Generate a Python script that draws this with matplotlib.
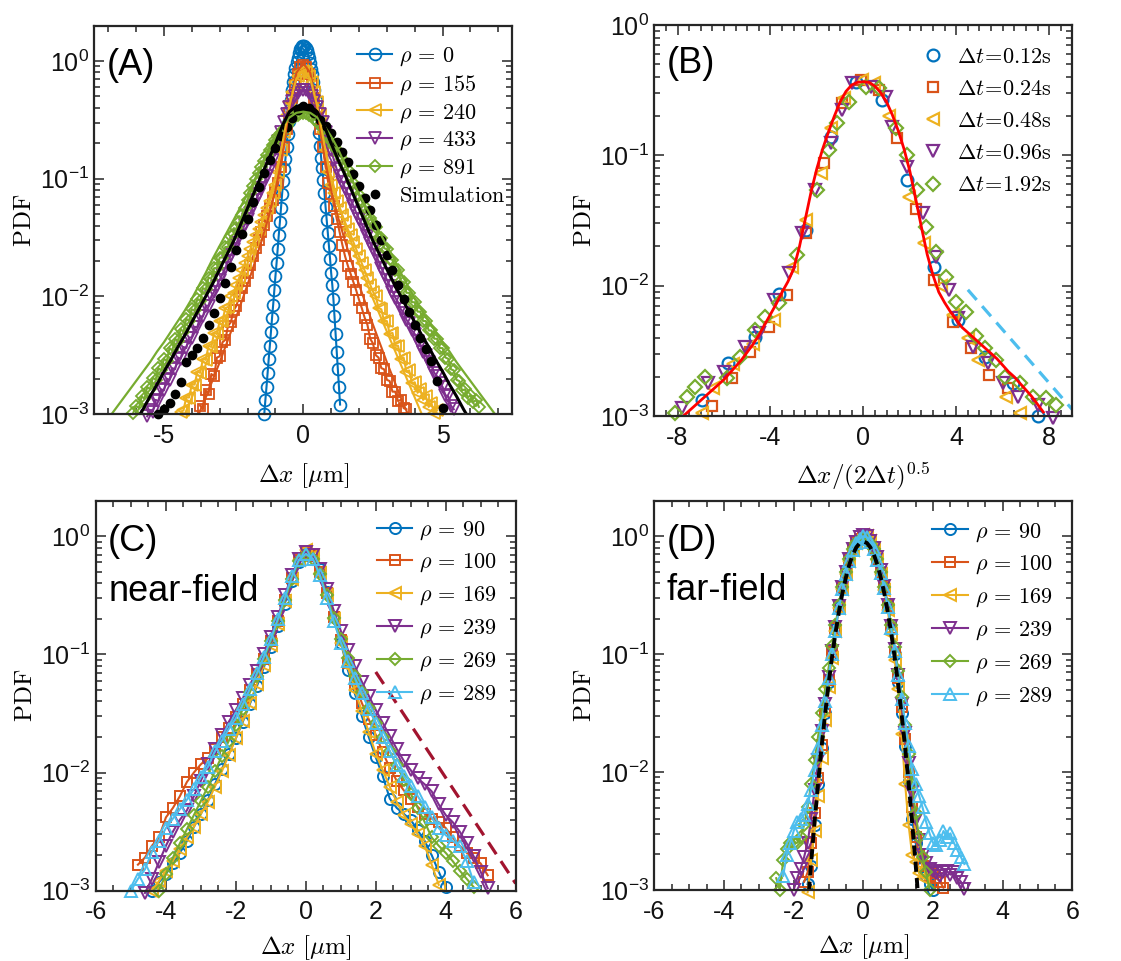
import numpy as np
import matplotlib
matplotlib.use("Agg")
import matplotlib.pyplot as plt
from matplotlib.lines import Line2D
from matplotlib.ticker import (LogLocator, MultipleLocator, NullFormatter,
                               FixedLocator)

plt.rcParams["font.family"] = ["Liberation Sans", "DejaVu Sans"]
plt.rcParams["axes.unicode_minus"] = False

# MATLAB default colour order
BLUE, ORANGE, YELLOW = "#0072BD", "#D95319", "#EDB120"
PURPLE, GREEN, CYAN, MAROON = "#7E2F8E", "#77AC30", "#4DBEEE", "#A2142F"
AXC = "#262626"

# ---------------------------------------------------------------- panel A
# log10(PDF) on regular bins: (first bin centre, bin width, values)
a_rho0_start, a_rho0_step = -1.40, 0.04
a_rho0_log = [-3.00, -2.88, -2.77, -2.65, -2.53, -2.42, -2.30, -2.18, -2.07, -1.95,
              -1.83, -1.72, -1.60, -1.48, -1.37, -1.25, -1.13, -1.02, -0.92, -0.83,
              -0.73, -0.62, -0.51, -0.42, -0.33, -0.25, -0.18, -0.11, -0.06, -0.01,
              0.03, 0.07, 0.10, 0.11, 0.13, 0.13,
              0.127, 0.114, 0.097, 0.064, 0.025, -0.018, -0.066, -0.114, -0.18, -0.25,
              -0.33, -0.41, -0.50, -0.61, -0.72, -0.82, -0.91, -1.01, -1.12, -1.24,
              -1.35, -1.46, -1.57, -1.68, -1.80, -1.90, -2.02, -2.17, -2.32, -2.47,
              -2.62, -2.77, -2.92]

a_rho155_start, a_step = -3.7, 0.1
a_rho155_log = [-2.93, -2.96, -2.80, -2.83, -2.66, -2.68, -2.52, -2.51, -2.39, -2.37,
                -2.25, -2.22, -2.12, -2.08, -2.00, -1.93, -1.87, -1.80, -1.73, -1.66,
                -1.59, -1.52, -1.45, -1.39, -1.32, -1.25, -1.18, -1.11, -1.04, -0.90,
                -0.73, -0.58, -0.44, -0.31, -0.20, -0.11, -0.05,
                -0.03,
                -0.05, -0.11, -0.20, -0.31, -0.44, -0.58, -0.73, -0.90, -1.04, -1.13,
                -1.23, -1.34, -1.45, -1.56, -1.66, -1.74, -1.81, -1.88, -1.95, -2.03,
                -2.10, -2.18, -2.24, -2.36, -2.40, -2.50, -2.52, -2.61, -2.62, -2.71,
                -2.72, -2.81, -2.81, -2.89, -2.88, -2.95, -2.96]

a_rho240_start = -4.4
a_rho240_log = [-2.98, -2.97, -2.86, -2.86, -2.75, -2.75, -2.64, -2.65, -2.53, -2.54,
                -2.42, -2.43, -2.31, -2.32, -2.21, -2.21, -2.10, -2.09, -2.00, -1.97,
                -1.90, -1.84, -1.78, -1.72, -1.66, -1.60, -1.54, -1.48, -1.43, -1.37,
                -1.31, -1.25, -1.19, -1.12, -1.05, -0.94, -0.76, -0.60, -0.46, -0.35,
                -0.26, -0.18, -0.13, -0.095,
                -0.085,
                -0.095, -0.13, -0.18, -0.26, -0.35, -0.46, -0.60, -0.76, -0.94, -1.05,
                -1.12, -1.19, -1.25, -1.31, -1.37, -1.43, -1.48, -1.54, -1.60, -1.66,
                -1.72, -1.78, -1.84, -1.90, -1.96, -2.00, -2.10, -2.11, -2.21, -2.21,
                -2.32, -2.31, -2.42, -2.42, -2.53, -2.52, -2.64, -2.63, -2.74, -2.73,
                -2.82, -2.79, -2.88, -2.85, -2.94, -2.91, -2.99, -2.97]

a_rho433_start = -5.6
a_rho433_log = [-3.02, -2.97, -2.98, -2.88, -2.89, -2.79, -2.80, -2.70, -2.71, -2.61,
                -2.62, -2.52, -2.53, -2.43, -2.44, -2.35, -2.35, -2.26, -2.26, -2.17,
                -2.17, -2.08, -2.08, -2.00, -1.96, -1.91, -1.86, -1.81, -1.76, -1.70,
                -1.65, -1.60, -1.55, -1.49, -1.44, -1.39, -1.34, -1.29, -1.23, -1.18,
                -1.13, -1.08, -1.03, -0.98, -0.92, -0.84, -0.76, -0.68, -0.60, -0.52,
                -0.45, -0.39, -0.34, -0.30, -0.27, -0.25,
                -0.245,
                -0.25, -0.27, -0.30, -0.34, -0.39, -0.45, -0.52, -0.60, -0.68, -0.76,
                -0.84, -0.92, -0.98, -1.03, -1.08, -1.13, -1.18, -1.23, -1.29, -1.34,
                -1.39, -1.44, -1.49, -1.55, -1.60, -1.65, -1.70, -1.76, -1.81, -1.86,
                -1.91, -1.96, -2.01, -2.05, -2.11, -2.14, -2.20, -2.23, -2.29, -2.32,
                -2.38, -2.41, -2.47, -2.50, -2.56, -2.59, -2.65, -2.68, -2.74, -2.77,
                -2.84, -2.85, -2.93, -2.96]

a_rho891_start = -6.1
a_rho891_log = [-2.99, -2.93, -2.95, -2.85, -2.87, -2.77, -2.79, -2.69, -2.71, -2.61,
                -2.63, -2.53, -2.55, -2.44, -2.46, -2.36, -2.38, -2.28, -2.30, -2.19,
                -2.21, -2.11, -2.12, -2.02, -2.04, -1.93, -1.94, -1.84, -1.85, -1.76,
                -1.76, -1.67, -1.67, -1.58, -1.58, -1.49, -1.47, -1.42, -1.37, -1.31,
                -1.25, -1.18, -1.12, -1.06, -1.00, -0.95, -0.90, -0.85, -0.80, -0.76,
                -0.71, -0.67, -0.64, -0.61, -0.58, -0.55, -0.52, -0.49, -0.47, -0.455,
                -0.445,
                -0.44,
                -0.445, -0.455, -0.47, -0.49, -0.51, -0.54, -0.57, -0.61, -0.64, -0.68,
                -0.72, -0.76, -0.80, -0.83, -0.88, -0.93, -0.98, -1.04, -1.09, -1.14,
                -1.19, -1.24, -1.29, -1.33, -1.38, -1.41, -1.50, -1.50, -1.59, -1.60,
                -1.68, -1.69, -1.78, -1.78, -1.87, -1.88, -1.97, -1.97, -2.05, -2.05,
                -2.13, -2.13, -2.21, -2.21, -2.29, -2.29, -2.36, -2.36, -2.44, -2.44,
                -2.52, -2.53, -2.62, -2.63, -2.71, -2.72, -2.80, -2.79, -2.86, -2.84,
                -2.90, -2.88, -2.94]

a_sim_start, a_sim_step = -5.2, 0.2
a_sim_log = [-3.00, -2.96, -2.91, -2.83, -2.73, -2.56, -2.50, -2.44, -2.35, -2.24,
             -2.14, -2.01, -1.89, -1.75, -1.61, -1.47, -1.34, -1.20, -1.07, -0.95,
             -0.84, -0.74, -0.64, -0.56, -0.48, -0.42, -0.38, -0.40, -0.44, -0.50,
             -0.55, -0.61, -0.69, -0.77, -0.86, -0.96, -1.06, -1.16, -1.27, -1.39,
             -1.52, -1.65, -1.78, -1.90, -2.02, -2.13, -2.24, -2.35, -2.45, -2.55,
             -2.72, -2.95]

# fitted curves, log10(PDF) at |dx| = 0, 0.25, 0.5, ... (symmetric)
fit_step = 0.25
fit155_log = [-0.02, -0.10, -0.40, -0.80, -1.10, -1.33, -1.53, -1.72, -1.90, -2.07,
              -2.24, -2.40, -2.56, -2.71, -2.86, -3.00]
fit240_log = [-0.08, -0.15, -0.38, -0.70, -0.98, -1.20, -1.39, -1.56, -1.72, -1.87,
              -2.02, -2.16, -2.30, -2.44, -2.58, -2.72, -2.86, -3.00]
fit891_log = [-0.43, -0.44, -0.48, -0.55, -0.64, -0.75, -0.88, -1.01, -1.13, -1.24,
              -1.35, -1.46, -1.57, -1.68, -1.80, -1.91, -2.02, -2.12, -2.21, -2.30,
              -2.39, -2.47, -2.56, -2.64, -2.72, -2.80, -2.88, -2.96, -3.04]
fitsim_log = [-0.37, -0.385, -0.43, -0.55, -0.70, -0.84, -0.97, -1.11, -1.25, -1.39,
              -1.53, -1.65, -1.77, -1.89, -2.00, -2.11, -2.22, -2.33, -2.43, -2.54,
              -2.64, -2.75, -2.85, -2.96, -3.06]

# ---------------------------------------------------------------- panel B
b_x012 = [-6.96, -5.81, -4.65, -3.65, -2.49, -1.41, -0.33, 0.82, 1.90, 3.05, 4.06,
          5.22, 6.44, 7.52]
b_y012 = [1.33e-3, 2.54e-3, 4.06e-3, 8.7e-3, 2.67e-2, 0.139, 0.367, 0.266, 6.46e-2,
          1.4e-2, 5.46e-3, 2.85e-3, 1.78e-3, 1.0e-3]
b_x024 = [-6.5, -5.66, -4.87, -4.08, -3.29, -2.49, -1.7, -0.91, -0.12, 0.68, 1.47,
          2.26, 3.05, 3.85, 4.64, 5.43, 6.22]
b_y024 = [1.2e-3, 1.95e-3, 3.1e-3, 4.8e-3, 8.5e-3, 2.52e-2, 8.7e-2, 0.25, 0.378,
          0.316, 0.135, 3.9e-2, 1.1e-2, 5.3e-3, 3.3e-3, 2.06e-3, 1.63e-3]
b_x048 = [-6.96, -6.46, -5.6, -4.73, -3.86, -3.07, -2.49, -1.84, -1.41, -0.84, -0.04,
          0.46, 1.11, 1.97, 2.62, 3.34, 3.85, 4.5, 4.93, 6.15, 6.73]
b_y048 = [1.05e-3, 1.63e-3, 2.5e-3, 3.6e-3, 5.5e-3, 1.4e-2, 3.17e-2, 7.3e-2, 0.161,
          0.274, 0.378, 0.356, 0.2, 4.8e-2, 2.11e-2, 1.0e-2, 5.96e-3, 3.97e-3,
          2.7e-3, 1.41e-3, 1.05e-3]
b_x096 = [-7.82, -6.67, -6.02, -5.09, -4.51, -3.86, -3.21, -2.64, -2.06, -1.41, -0.91,
          -0.48, 0.32, 0.97, 1.25, 1.90, 2.55, 3.13, 3.70, 4.06, 4.71, 5.36, 6.00,
          6.66, 7.52, 8.17]
b_y096 = [1.15e-3, 1.78e-3, 2.19e-3, 3.4e-3, 4.3e-3, 7.76e-3, 1.24e-2, 2.52e-2,
          5.4e-2, 0.124, 0.223, 0.357, 0.336, 0.28, 0.166, 8.2e-2, 3.59e-2, 1.67e-2,
          9.3e-3, 5.6e-3, 3.4e-3, 2.54e-3, 1.78e-3, 1.41e-3, 1.21e-3, 9.6e-4]
b_x192 = [-8.11, -7.6, -7.25, -6.82, -5.88, -5.3, -4.65, -4.22, -3.65, -2.85, -1.99,
          -1.48, -1.12, -0.62, 0.1, 0.68, 1.4, 1.9, 2.33, 2.69, 3.13, 3.56, 3.99,
          4.42, 4.86, 5.22, 5.72, 6.08, 6.73, 7.31, 7.88, 8.31]
b_y192 = [1.05e-3, 1.41e-3, 1.68e-3, 2.0e-3, 1.95e-3, 2.85e-3, 4.57e-3, 5.8e-3,
          7.3e-3, 1.72e-2, 5.4e-2, 0.11, 0.176, 0.258, 0.336, 0.327, 0.161, 0.1,
          5.4e-2, 2.84e-2, 1.82e-2, 1.17e-2, 7.55e-3, 6.3e-3, 4.1e-3, 3.3e-3,
          2.7e-3, 2.0e-3, 1.78e-3, 1.41e-3, 1.37e-3, 1.21e-3]
# master curve, log10(PDF) from -7.75 in steps of 0.25
b_fit_start, b_fit_step = -7.75, 0.25
b_fit_log = [-3.00, -2.96, -2.92, -2.88, -2.84, -2.80, -2.76, -2.72, -2.67, -2.62,
             -2.57, -2.51, -2.45, -2.38, -2.30, -2.22, -2.14, -2.05, -1.97, -1.87,
             -1.70, -1.49, -1.28, -1.10, -0.95, -0.82, -0.70, -0.59, -0.51, -0.46,
             -0.44, -0.435, -0.44, -0.47, -0.52, -0.59, -0.69, -0.81, -0.95, -1.12,
             -1.33, -1.55, -1.76, -1.92, -2.05, -2.13, -2.20, -2.26, -2.32, -2.36,
             -2.40, -2.44, -2.48, -2.52, -2.56, -2.61, -2.66, -2.70, -2.75, -2.80,
             -2.85, -2.91, -2.97]
b_tail_x = [4.5, 9.0]
b_tail_y = [9.3e-3, 1.12e-3]

# ---------------------------------------------------------------- panel C
c_step = 0.2
c_rho90_start = -4.4
c_rho90_log = [-3.00, -2.93, -2.86, -2.77, -2.68, -2.58, -2.46, -2.35, -2.23, -2.10,
               -1.97, -1.84, -1.71, -1.57, -1.42, -1.27, -1.11, -0.94, -0.76, -0.57,
               -0.38, -0.22, -0.15, -0.16, -0.28, -0.47, -0.68, -0.90, -1.13, -1.33,
               -1.52, -1.70, -1.87, -2.03, -2.22, -2.30, -2.35, -2.40, -2.49, -2.58,
               -2.70, -2.84, -2.97]
c_rho100_start = -4.8
c_rho100_log = [-2.78, -2.72, -2.62, -2.55, -2.38, -2.30, -2.20, -2.08, -2.00, -1.93,
                -1.88, -1.80, -1.70, -1.62, -1.53, -1.42, -1.30, -1.17, -1.04, -0.89,
                -0.72, -0.54, -0.35, -0.20, -0.13, -0.17, -0.30, -0.48, -0.68, -0.88,
                -1.07, -1.25, -1.41, -1.55, -1.68, -1.83, -1.96, -2.07, -2.15, -2.22,
                -2.29, -2.35, -2.39, -2.42, -2.47, -2.55, -2.62, -2.68, -2.72, -2.77,
                -2.87]
c_rho169_start = -4.4
c_rho169_log = [-3.00, -2.92, -2.83, -2.75, -2.65, -2.55, -2.46, -2.35, -2.25, -2.12,
                -1.99, -1.85, -1.71, -1.56, -1.41, -1.25, -1.09, -0.92, -0.74, -0.55,
                -0.36, -0.20, -0.12, -0.17, -0.31, -0.50, -0.70, -0.90, -1.10, -1.30,
                -1.48, -1.66, -1.84, -1.98, -2.12, -2.25, -2.36, -2.44, -2.52, -2.62,
                -2.78, -2.95]
c_rho239_start = -4.6
c_rho239_log = [-3.02, -2.90, -2.76, -2.62, -2.50, -2.40, -2.32, -2.20, -2.07, -1.93,
                -1.80, -1.68, -1.57, -1.47, -1.37, -1.26, -1.14, -1.00, -0.85, -0.68,
                -0.50, -0.33, -0.19, -0.13, -0.16, -0.28, -0.45, -0.63, -0.80, -0.96,
                -1.10, -1.23, -1.35, -1.47, -1.58, -1.69, -1.80, -1.90, -1.98, -2.05,
                -2.10, -2.16, -2.27, -2.36, -2.42, -2.50, -2.60, -2.71, -2.84, -2.98]
c_rho269_start = -4.2
c_rho269_log = [-3.00, -2.86, -2.72, -2.60, -2.48, -2.36, -2.24, -2.12, -1.99, -1.86,
                -1.73, -1.60, -1.46, -1.32, -1.18, -1.04, -0.89, -0.72, -0.54, -0.36,
                -0.21, -0.16, -0.19, -0.32, -0.50, -0.69, -0.87, -1.03, -1.18, -1.32,
                -1.45, -1.58, -1.70, -1.82, -1.94, -2.06, -2.18, -2.30, -2.42, -2.55,
                -2.62, -2.68, -2.75, -2.83, -2.90, -2.97]
c_rho289_start = -5.0
c_rho289_log = [-3.00, -2.90, -2.82, -2.67, -2.58, -2.47, -2.39, -2.31, -2.23, -2.14,
                -2.04, -1.95, -1.82, -1.73, -1.63, -1.54, -1.42, -1.29, -1.16, -1.02,
                -0.87, -0.70, -0.52, -0.34, -0.20, -0.15, -0.19, -0.33, -0.52, -0.72,
                -0.90, -1.06, -1.20, -1.33, -1.46, -1.58, -1.70, -1.82, -1.94, -2.03,
                -2.11, -2.20, -2.29, -2.38, -2.47, -2.53, -2.58, -2.62, -2.75, -2.93]
c_guide_x = [2.0, 6.0]
c_guide_y = [7.1e-2, 1.15e-3]

# ---------------------------------------------------------------- panel D
d_step = 0.1
d_rho90_start = -1.6
d_rho90_log = [-2.95, -2.80, -2.45, -2.10, -1.80, -1.50, -1.24, -1.00, -0.79, -0.60,
               -0.44, -0.31, -0.20, -0.12, -0.06, -0.02, -0.01, -0.02, -0.06, -0.12,
               -0.20, -0.31, -0.44, -0.60, -0.79, -1.00, -1.24, -1.50, -1.78, -2.08,
               -2.40, -2.60, -2.72, -2.80, -2.88, -2.95, -3.00]
d_rho100_start = -1.7
d_rho100_log = [-2.93, -2.85, -2.60, -2.35, -2.05, -1.77, -1.48, -1.22, -0.98, -0.78,
                -0.59, -0.43, -0.30, -0.19, -0.11, -0.05, -0.02, 0.00, -0.02, -0.05,
                -0.11, -0.19, -0.30, -0.43, -0.59, -0.78, -0.98, -1.20, -1.45, -1.72,
                -2.00, -2.30, -2.55, -2.70, -2.80, -2.85, -2.88, -2.86, -2.90, -2.93,
                -2.98]
d_rho169_start = -1.6
d_rho169_log = [-3.02, -2.75, -2.50, -2.20, -1.88, -1.56, -1.28, -1.03, -0.80, -0.61,
                -0.45, -0.32, -0.21, -0.12, -0.06, -0.02, 0.01, 0.00, -0.04, -0.11,
                -0.20, -0.32, -0.46, -0.63, -0.83, -1.05, -1.30, -1.68, -2.10, -2.45,
                -2.70, -2.76, -2.86, -2.90]
d_rho239_start = -2.0
d_rho239_log = [-3.00, -2.90, -2.82, -2.72, -2.60, -2.40, -2.15, -1.90, -1.65, -1.42,
                -1.19, -0.97, -0.77, -0.59, -0.43, -0.30, -0.19, -0.11, -0.05, -0.01,
                0.01, 0.00, -0.04, -0.10, -0.18, -0.29, -0.42, -0.58, -0.76, -0.96,
                -1.18, -1.42, -1.67, -1.92, -2.17, -2.40, -2.58, -2.70, -2.77, -2.82,
                -2.84, -2.86, -2.88, -2.85, -2.84, -2.87, -2.85, -2.90, -2.93, -2.99]
d_rho269_start = -2.5
d_rho269_log = [-2.90, -3.00, -2.75, -2.65, -2.60, -2.60, -2.60, -2.55, -2.45, -2.30,
                -2.10, -1.90, -1.70, -1.50, -1.30, -1.12, -0.93, -0.75, -0.58, -0.43,
                -0.30, -0.19, -0.11, -0.06, -0.03, -0.02, -0.03, -0.06, -0.11, -0.19,
                -0.30, -0.43, -0.58, -0.75, -0.94, -1.14, -1.36, -1.60, -1.85, -2.10,
                -2.35, -2.55, -2.72, -2.85, -3.00]
d_rho289_start = -2.3
d_rho289_log = [-2.88, -2.70, -2.60, -2.50, -2.42, -2.40, -2.36, -2.27, -2.15, -1.98,
                -1.80, -1.60, -1.40, -1.20, -1.00, -0.80, -0.61, -0.45, -0.32, -0.21,
                -0.12, -0.06, -0.02, 0.00, -0.01, -0.05, -0.11, -0.20, -0.31, -0.44,
                -0.60, -0.78, -0.97, -1.18, -1.38, -1.58, -1.78, -1.97, -2.10, -2.20,
                -2.30, -2.42, -2.52, -2.60, -2.62, -2.58, -2.50, -2.55, -2.52, -2.60,
                -2.66, -2.72, -2.78]
# Gaussian reference curve, PDF from -1.6 to 1.6 in steps of 0.1
d_gauss_start = -1.6
d_gauss_pdf = [7.03e-4, 1.67e-3, 3.77e-3, 8.0e-3, 1.61e-2, 3.06e-2, 5.51e-2, 9.38e-2,
               0.151, 0.229, 0.330, 0.448, 0.577, 0.701, 0.806, 0.877, 0.900, 0.877,
               0.806, 0.701, 0.577, 0.448, 0.330, 0.229, 0.151, 9.38e-2, 5.51e-2,
               3.06e-2, 1.61e-2, 8.0e-3, 3.77e-3, 1.67e-3, 7.03e-4]


def bins(start, step, values):
    return start + step * np.arange(len(values))


def sym(step, half):
    h = np.asarray(half)
    xh = step * np.arange(len(h))
    return np.concatenate([-xh[:0:-1], xh]), np.concatenate([h[:0:-1], h])


def pdf(logv):
    return 10.0 ** np.asarray(logv)


def style(ax, xlim, xmajor, xminor, ylim):
    ax.set_yscale("log")
    ax.set_xlim(*xlim)
    ax.set_ylim(*ylim)
    ax.xaxis.set_major_locator(FixedLocator(xmajor))
    ax.xaxis.set_minor_locator(MultipleLocator(xminor))
    ax.yaxis.set_major_locator(LogLocator(base=10, numticks=10))
    ax.yaxis.set_minor_locator(LogLocator(base=10, subs=np.arange(2, 10), numticks=40))
    ax.yaxis.set_minor_formatter(NullFormatter())
    ax.tick_params(which="both", direction="in", top=True, right=True,
                   color=AXC, labelcolor="#111111", labelsize=18, width=1.1)
    ax.tick_params(which="major", length=7)
    ax.tick_params(which="minor", length=4)
    ax.tick_params(axis="x", which="major", pad=7)
    ax.tick_params(axis="y", which="major", pad=4)
    for s in ax.spines.values():
        s.set_linewidth(1.6)
        s.set_color(AXC)


def data_line(ax, x, y, color, marker, ms, mew=1.3, lw=1.5):
    return ax.plot(x, y, "-", lw=lw, color=color, marker=marker, ms=ms, mfc="none",
                   mec=color, mew=mew, clip_on=False)[0]


LAB = dict(fontsize=18, math_fontfamily="cm")
LEG = {"size": 16, "math_fontfamily": "cm"}
XLAB = r"$\Delta x\ [\mu\mathrm{m}]$"

fig = plt.figure(figsize=(11.21, 9.61), dpi=100)
axA = fig.add_axes([0.0841, 0.5692, 0.3729, 0.4041])
axB = fig.add_axes([0.5837, 0.5671, 0.3729, 0.4069])
axC = fig.add_axes([0.0856, 0.0732, 0.3744, 0.4058])
axD = fig.add_axes([0.5837, 0.0739, 0.3729, 0.4051])

# ------------------------------------------------------------------- (A)
ax = axA
hA = [
    data_line(ax, bins(a_rho0_start, a_rho0_step, a_rho0_log), pdf(a_rho0_log), BLUE, "o", 8.5),
    data_line(ax, bins(a_rho155_start, a_step, a_rho155_log), pdf(a_rho155_log), ORANGE, "s", 7.0),
    data_line(ax, bins(a_rho240_start, a_step, a_rho240_log), pdf(a_rho240_log), YELLOW, "<", 8.0),
    data_line(ax, bins(a_rho433_start, a_step, a_rho433_log), pdf(a_rho433_log), PURPLE, "v", 8.0),
    data_line(ax, bins(a_rho891_start, a_step, a_rho891_log), pdf(a_rho891_log), GREEN, "D", 5.8),
]
ax.plot(bins(a_sim_start, a_sim_step, a_sim_log), pdf(a_sim_log), ls="none",
        marker="o", mfc="k", mec="k", ms=6.0, clip_on=False)
hA.append(Line2D([], [], ls="none", marker="o", mfc="k", mec="k", ms=6.0))
for half, col, lw in [(fit155_log, ORANGE, 1.5), (fit240_log, YELLOW, 1.5),
                      (fit891_log, GREEN, 1.6), (fitsim_log, "k", 2.2)]:
    fx, fl = sym(fit_step, half)
    ax.plot(fx, pdf(fl), "-", color=col, lw=lw)
style(ax, (-7.5, 7.5), [-5, 0, 5], 1, (1e-3, 2))
ax.legend(hA, [r"$\rho\,=\,0$", r"$\rho\,=\,155$", r"$\rho\,=\,240$", r"$\rho\,=\,433$",
               r"$\rho\,=\,891$", r"$\mathrm{Simulation}$"],
          loc="upper left", bbox_to_anchor=(0.628, 0.950), frameon=False, prop=LEG,
          handlelength=1.6, handletextpad=0.3, labelspacing=0.24, borderpad=0,
          borderaxespad=0)
ax.text(0.03, 0.873, "(A)", transform=ax.transAxes, fontsize=26)
ax.set_ylabel(r"$\mathrm{PDF}$", **LAB)
ax.set_xlabel(XLAB, **LAB)
ax.yaxis.set_label_coords(-0.14, 0.5)
ax.xaxis.set_label_coords(0.5, -0.122)

# ------------------------------------------------------------------- (B)
ax = axB
hB = []
for xs, ys, col, mk, ms in [(b_x012, b_y012, BLUE, "o", 8.5), (b_x024, b_y024, ORANGE, "s", 7.8),
                            (b_x048, b_y048, YELLOW, "<", 9.3), (b_x096, b_y096, PURPLE, "v", 9.3),
                            (b_x192, b_y192, GREEN, "D", 7.0)]:
    hB.append(ax.plot(xs, ys, ls="none", marker=mk, ms=ms, mfc="none", mec=col,
                      mew=1.6, clip_on=False)[0])
ax.plot(bins(b_fit_start, b_fit_step, b_fit_log), pdf(b_fit_log), "-", color="#FF0000", lw=2.0)
ax.plot(b_tail_x, b_tail_y, color=CYAN, lw=2.3, dashes=(4.2, 2.6))
style(ax, (-9, 9), [-8, -4, 0, 4, 8], 0.5, (1e-3, 1))
ax.legend(hB, [r"$\Delta t\!=\!0.12\mathrm{s}$", r"$\Delta t\!=\!0.24\mathrm{s}$",
               r"$\Delta t\!=\!0.48\mathrm{s}$", r"$\Delta t\!=\!0.96\mathrm{s}$",
               r"$\Delta t\!=\!1.92\mathrm{s}$"],
          loc="upper left", bbox_to_anchor=(0.641, 0.944), frameon=False, prop=LEG,
          handlelength=1.0, handletextpad=0.55, labelspacing=0.5, borderpad=0,
          borderaxespad=0)
ax.text(0.03, 0.876, "(B)", transform=ax.transAxes, fontsize=26)
ax.set_ylabel(r"$\mathrm{PDF}$", **LAB)
ax.set_xlabel(r"$\Delta x/(2\Delta t)^{0.5}$", **LAB)
ax.yaxis.set_label_coords(-0.14, 0.5)
ax.xaxis.set_label_coords(0.5, -0.112)

# ---------------------------------------------------------------- (C), (D)
rho_labels = [r"$\rho\,=\,90$", r"$\rho\,=\,100$", r"$\rho\,=\,169$",
              r"$\rho\,=\,239$", r"$\rho\,=\,269$", r"$\rho\,=\,289$"]
styles = [(BLUE, "o", 8.0), (ORANGE, "s", 7.0), (YELLOW, "<", 9.0),
          (PURPLE, "v", 9.0), (GREEN, "D", 6.0), (CYAN, "^", 9.0)]

c_sets = [(c_rho90_start, c_rho90_log), (c_rho100_start, c_rho100_log),
          (c_rho169_start, c_rho169_log), (c_rho239_start, c_rho239_log),
          (c_rho269_start, c_rho269_log), (c_rho289_start, c_rho289_log)]
d_sets = [(d_rho90_start, d_rho90_log), (d_rho100_start, d_rho100_log),
          (d_rho169_start, d_rho169_log), (d_rho239_start, d_rho239_log),
          (d_rho269_start, d_rho269_log), (d_rho289_start, d_rho289_log)]

for ax, sets, step, letter, tag, anchor in [
        (axC, c_sets, c_step, "(C)", "near-field", (0.669, 0.953)),
        (axD, d_sets, d_step, "(D)", "far-field", (0.665, 0.948))]:
    hs = []
    for (st, lv), (col, mk, ms) in zip(sets, styles):
        hs.append(data_line(ax, bins(st, step, lv), pdf(lv), col, mk, ms, mew=1.4, lw=1.5))
    style(ax, (-6, 6), [-6, -4, -2, 0, 2, 4, 6], 0.5, (1e-3, 2))
    ax.legend(hs, rho_labels, loc="upper left", bbox_to_anchor=anchor, frameon=False,
              prop=LEG, handlelength=1.6, handletextpad=0.3, labelspacing=0.46,
              borderpad=0, borderaxespad=0)
    ax.text(0.029, 0.872, letter, transform=ax.transAxes, fontsize=26)
    ax.text(0.029, 0.744, tag, transform=ax.transAxes, fontsize=26)
    ax.set_ylabel(r"$\mathrm{PDF}$", **LAB)
    ax.set_xlabel(XLAB, **LAB)
    ax.yaxis.set_label_coords(-0.14, 0.5)
    ax.xaxis.set_label_coords(0.5, -0.108)

axC.plot(c_guide_x, c_guide_y, color=MAROON, lw=2.3, dashes=(4.5, 2.6))
axD.plot(bins(d_gauss_start, d_step, d_gauss_pdf), d_gauss_pdf, color="k", lw=2.8,
         dashes=(2.6, 1.6))

fig.savefig("out.png", dpi=100)
